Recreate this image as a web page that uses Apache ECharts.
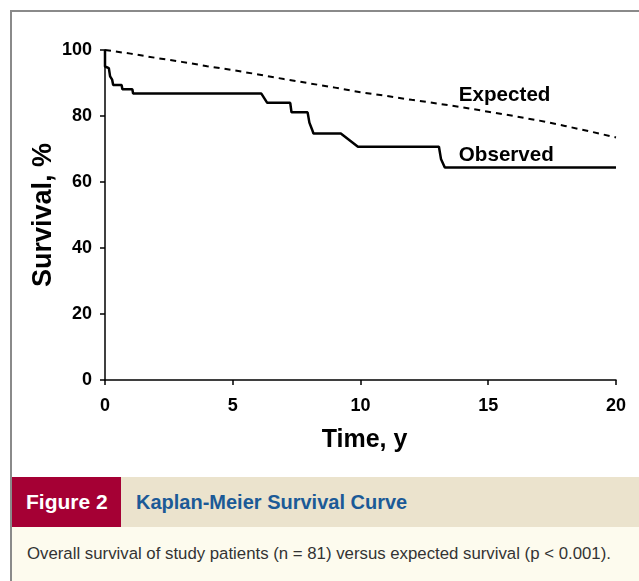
<!DOCTYPE html>
<html>
<head>
<meta charset="utf-8">
<script src="https://cdn.jsdelivr.net/npm/echarts@6/dist/echarts.min.js"></script>
<style>
  html,body{margin:0;padding:0;background:#fff;}
  body{width:639px;height:581px;position:relative;overflow:hidden;}
  #frameTop{position:absolute;left:10px;top:10px;width:629px;height:0;border-top:2px solid #8a8a8a;}
  #frameLeft{position:absolute;left:10px;top:10px;width:0;height:571px;border-left:2px solid #8a8a8a;}
  #chart{position:absolute;left:0;top:0;width:629px;height:470px;}
  #bar{position:absolute;left:12px;top:477px;width:627px;height:50px;background:#ebe3cd;}
  #fig{position:absolute;left:0;top:0;width:109px;height:50px;background:#a50034;color:#fff;
       font-family:"Liberation Sans",Arial,sans-serif;font-weight:bold;font-size:21px;line-height:50px;text-indent:14px;}
  #ttl{position:absolute;left:124px;top:0;height:50px;line-height:50px;color:#1b5a97;
       font-family:"Liberation Sans",Arial,sans-serif;font-weight:bold;font-size:20px;}
  #cap{position:absolute;left:12px;top:527px;width:627px;height:54px;background:#fdfbee;}
  #capt{position:absolute;left:15px;top:17px;color:#333;white-space:nowrap;
       font-family:"Liberation Sans",Arial,sans-serif;font-size:16.8px;}
</style>
</head>
<body>
<div id="frameTop"></div>
<div id="frameLeft"></div>
<div id="chart"></div>
<div id="bar"><div id="fig">Figure 2</div><div id="ttl">Kaplan-Meier Survival Curve</div></div>
<div id="cap"><div id="capt">Overall survival of study patients (n = 81) versus expected survival (p &lt; 0.001).</div></div>
<script>
// Observed Kaplan-Meier curve vertices (time in years, survival %)
var obsTime = [0, 0, 0.15, 0.2, 0.28, 0.32, 0.65, 0.68, 1.07, 1.1, 6.12, 6.35, 7.25, 7.3, 7.93, 8.0, 8.1, 8.16, 9.23, 9.9, 13.07, 13.15, 13.3, 20];
var obsSurv = [100, 95, 94.5, 92, 91, 89.4, 89.4, 88.1, 88.1, 86.8, 86.8, 84.0, 84.0, 81.1, 81.1, 78, 76, 74.7, 74.7, 70.7, 70.7, 67, 64.4, 64.4];
// Expected survival
var expTime = [0,1,2,3,4,5,6,7,8,9,10,11,12,13,14,15,16,17,18,19,20];
var expSurv = [100,98.9,97.6,96.4,95.1,93.9,92.6,91.2,89.9,88.6,87.2,86.1,84.9,83.8,82.6,81.3,80.0,78.6,77.0,75.3,73.5];
// Curve labels
var labelExpected = {name: 'Expected', t: 13.83, s: 86.4};
var labelObserved = {name: 'Observed', t: 13.83, s: 68.2};

function pairs(a, b){ return a.map(function(v,i){ return [v, b[i]]; }); }

var font = '"Liberation Sans", Arial, sans-serif';
var chart = echarts.init(document.getElementById('chart'), null, {renderer:'canvas'});
var axisCommon = {
  axisLine: {show:true, onZero:false, lineStyle:{color:'#000', width:1.5}},
  axisTick: {show:true, length:5, lineStyle:{color:'#000', width:1.5}},
  splitLine: {show:false},
  nameLocation: 'middle',
  nameMoveOverlap: false
};
function mk(lbl){
  return {symbol:'rect', symbolSize:1, silent:true,
    itemStyle:{color:'rgba(0,0,0,0)'},
    data:[{coord:[lbl.t, lbl.s], value:lbl.name}],
    label:{show:true, position:'right', distance:0, formatter:lbl.name, color:'#000',
      fontFamily:font, fontWeight:'bold', fontSize:20.6}};
}
chart.setOption({
  animation:false,
  grid:{left:105, right:9, top:50, bottom:90},
  xAxis: Object.assign({}, axisCommon, {type:'value', min:0, max:20, interval:5, name:'Time, y', nameGap:48,
    axisLabel:{color:'#000', fontFamily:font, fontWeight:'bold', fontSize:18, margin:17},
    nameTextStyle:{color:'#000', fontFamily:font, fontWeight:'bold', fontSize:25, padding:[0,0,0,8]}}),
  yAxis: Object.assign({}, axisCommon, {type:'value', min:0, max:100, interval:20, name:'Survival, %', nameGap:48,
    axisLabel:{color:'#000', fontFamily:font, fontWeight:'bold', fontSize:18, margin:13},
    nameTextStyle:{color:'#000', fontFamily:font, fontWeight:'bold', fontSize:27}}),
  series:[
    {type:'line', name:'Expected', data:pairs(expTime, expSurv), symbol:'none',
     lineStyle:{color:'#000', width:2, type:[6,5]}, markPoint: mk(labelExpected)},
    {type:'line', name:'Observed', data:pairs(obsTime, obsSurv), symbol:'none',
     lineStyle:{color:'#000', width:2.5}, markPoint: mk(labelObserved)}
  ]
});
</script>
</body>
</html>
